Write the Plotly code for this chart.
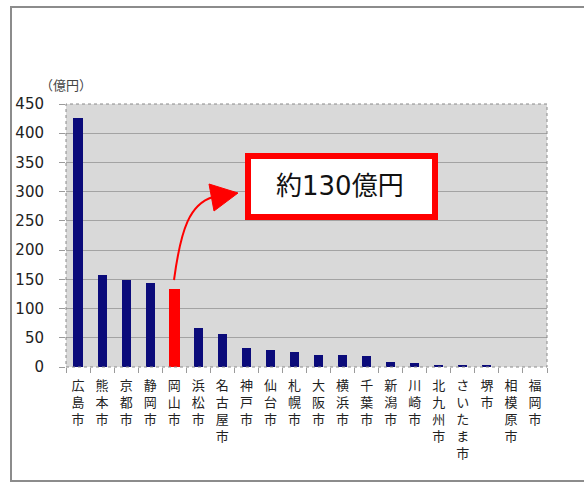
import plotly.graph_objects as go

cities = ["広島市", "熊本市", "京都市", "静岡市", "岡山市", "浜松市", "名古屋市", "神戸市",
          "仙台市", "札幌市", "大阪市", "横浜市", "千葉市", "新潟市", "川崎市", "北九州市",
          "さいたま市", "堺市", "相模原市", "福岡市"]
values = [426, 157, 149, 143, 134, 66, 57, 33, 29, 26, 20, 20, 19, 9, 6, 4, 4, 3, 0, 0]
highlight = "岡山市"
y_ticks = [0, 50, 100, 150, 200, 250, 300, 350, 400, 450]
unit_label = "（億円）"
callout_text = "約130億円"

NAVY = "#0b0b7a"
RED = "#ff0000"

xs = list(range(len(cities)))
colors = [RED if c == highlight else NAVY for c in cities]
widths = [0.46 if c == highlight else 0.38 for c in cities]
ticktext = ["<br>".join(list(c)) for c in cities]

fig = go.Figure()
fig.add_trace(go.Bar(
    x=xs, y=values, width=widths,
    marker=dict(color=colors, line=dict(width=0)),
    hoverinfo="skip",
))

# px <-> data helpers (layout: plot x 66..547, y 104..367)
L, R, T, B = 66, 547, 104, 367
n = len(cities)
def dx(px):
    return (px - L) / ((R - L) / n) - 0.5
def dy(py):
    return (B - py) / ((B - T) / 450.0)

shapes = []
# outer frame
shapes.append(dict(type="rect", xref="paper", yref="paper",
                   x0=(11 - L) / (R - L), x1=(600 - L) / (R - L),
                   y0=(B - 481) / (B - T), y1=(B - 7) / (B - T),
                   line=dict(color="#8c8c8c", width=2), layer="below"))
# plot border dotted
shapes.append(dict(type="rect", xref="paper", yref="paper", x0=0, x1=1, y0=0, y1=1,
                   line=dict(color="#8a8a8a", width=1, dash="dot")))
# curved arrow
p0 = (dx(174), dy(280))
c1 = (dx(181), dy(228))
c2 = (dx(190), dy(204))
p1 = (dx(213), dy(197))
shapes.append(dict(type="path", xref="x", yref="y",
                   path=f"M {p0[0]},{p0[1]} C {c1[0]},{c1[1]} {c2[0]},{c2[1]} {p1[0]},{p1[1]}",
                   line=dict(color=RED, width=2)))
a, b, c = (dx(209), dy(184)), (dx(214), dy(211)), (dx(238), dy(193))
shapes.append(dict(type="path", xref="x", yref="y",
                   path=f"M {a[0]},{a[1]} L {b[0]},{b[1]} L {c[0]},{c[1]} Z",
                   fillcolor=RED, line=dict(color=RED, width=1)))
# callout box
shapes.append(dict(type="rect", xref="x", yref="y",
                   x0=dx(248), x1=dx(435), y0=dy(217), y1=dy(156),
                   fillcolor="white", line=dict(color=RED, width=6)))

annotations = [
    dict(text=callout_text, xref="x", yref="y", x=dx(340), y=dy(186), showarrow=False,
         font=dict(family="DejaVu Sans, Noto Sans CJK JP", size=26, color="#111")),
    dict(text=unit_label, xref="paper", yref="paper", x=(38 - L) / (R - L), y=(B - 85) / (B - T),
         xanchor="left", yanchor="middle", showarrow=False,
         font=dict(family="Noto Sans CJK JP", size=13, color="#444")),
]

fig.update_layout(
    width=584, height=482,
    margin=dict(l=L, r=584 - R, t=T, b=482 - B),
    paper_bgcolor="white", plot_bgcolor="#d9d9d9",
    showlegend=False, bargap=0,
    shapes=shapes, annotations=annotations,
    font=dict(family="Noto Sans CJK JP"),
)
fig.update_xaxes(
    range=[-0.5, n - 0.5], tickmode="array", tickvals=xs, ticktext=ticktext,
    ticks="", showgrid=False, zeroline=False, showline=False,
    tickfont=dict(family="Noto Sans CJK JP", size=13, color="#222"),
    tickangle=0, ticklabelstandoff=9,
    minor=dict(tickmode="array", tickvals=[i - 0.5 for i in range(n + 1)], ticks="outside",
               ticklen=5, tickcolor="#9a9a9a", showgrid=False),
)
fig.update_yaxes(
    range=[0, 450], tickmode="array", tickvals=y_ticks,
    ticks="outside", ticklen=6, tickcolor="#9a9a9a",
    showgrid=True, gridcolor="#a3a3a3", gridwidth=1, zeroline=False, showline=False,
    tickfont=dict(family="DejaVu Sans", size=15, color="#222"),
    ticklabelstandoff=12,
)

fig.write_html("out.html")
